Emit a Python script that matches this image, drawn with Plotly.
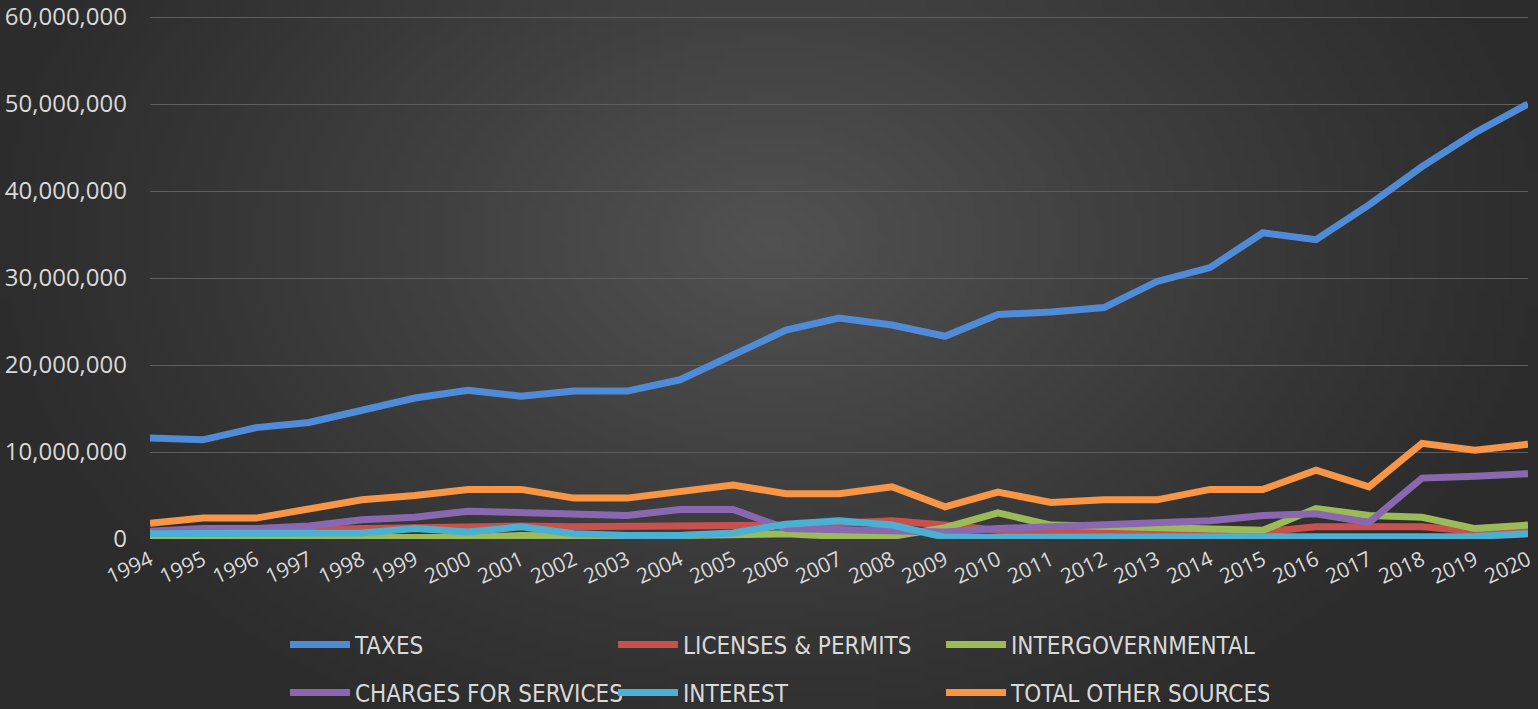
import zlib, struct, base64
import plotly.graph_objects as go

years = list(range(1994, 2021))

taxes = [11.6, 11.4, 12.8, 13.4, 14.8, 16.2, 17.1, 16.4, 17.0, 17.0, 18.3, 21.1, 24.0, 25.4,
         24.6, 23.3, 25.8, 26.1, 26.6, 29.6, 31.2, 35.2, 34.4, 38.4, 42.8, 46.7, 50.0]
licenses = [0.8, 0.9, 1.0, 1.1, 1.3, 1.5, 1.6, 1.5, 1.4, 1.4, 1.4, 1.4, 1.6, 1.8,
            2.1, 1.6, 1.0, 0.8, 0.8, 0.8, 0.8, 0.8, 1.4, 1.4, 1.4, 0.9, 1.2]
intergov = [0.1, 0.1, 0.1, 0.1, 0.1, 0.2, 0.2, 0.4, 0.3, 0.3, 0.4, 0.5, 0.6, 0.3,
            0.3, 1.3, 3.0, 1.6, 1.5, 1.2, 1.2, 1.0, 3.5, 2.7, 2.5, 1.2, 1.6]
charges = [0.9, 1.2, 1.2, 1.5, 2.2, 2.5, 3.2, 3.0, 2.7, 2.7, 3.4, 3.4, 1.2, 1.0,
           1.0, 0.8, 1.2, 1.4, 1.5, 1.8, 2.1, 2.7, 2.9, 1.9, 7.0, 7.2, 7.5]
interest = [0.6, 0.6, 0.6, 0.6, 0.7, 1.2, 0.8, 1.4, 0.6, 0.4, 0.4, 0.7, 1.7, 2.1,
            1.6, 0.2, 0.2, 0.3, 0.3, 0.3, 0.3, 0.3, 0.3, 0.3, 0.3, 0.3, 0.6]
other = [1.8, 2.4, 2.4, 3.5, 4.5, 5.0, 5.7, 5.7, 4.7, 4.7, 5.4, 6.2, 5.2, 5.2,
         6.0, 3.7, 5.4, 4.2, 4.5, 4.5, 5.7, 5.7, 7.9, 6.0, 11.0, 10.2, 10.9]

series_names = ["TAXES", "LICENSES & PERMITS", "INTERGOVERNMENTAL",
                "CHARGES FOR SERVICES", "INTEREST", "TOTAL OTHER SOURCES"]
series_vals = [taxes, licenses, intergov, charges, interest, other]
colors = ["#4F8BD6", "#C8504D", "#9BBB59", "#8A68B0", "#4BB0D2", "#F79646"]
y_ticks = [0, 10e6, 20e6, 30e6, 40e6, 50e6, 60e6]


def make_png(w, h, fn):
    raw = bytearray()
    for j in range(h):
        raw.append(0)
        for i in range(w):
            v = fn(i, j)
            raw += bytes((v, v, v))

    def chunk(t, d):
        c = struct.pack('>I', len(d)) + t + d
        return c + struct.pack('>I', zlib.crc32(t + d) & 0xffffffff)

    png = (b'\x89PNG\r\n\x1a\n'
           + chunk(b'IHDR', struct.pack('>IIBBBBB', w, h, 8, 2, 0, 0, 0))
           + chunk(b'IDAT', zlib.compress(bytes(raw)))
           + chunk(b'IEND', b''))
    return 'data:image/png;base64,' + base64.b64encode(png).decode()


W, H = 1538, 709
GW, GH = 192, 89


def grad(i, j):
    x = (i + 0.5) / GW * W
    y = (j + 0.5) / GH * H
    d = (((x - 770) / 800) ** 2 + ((y - 240) / 560) ** 2) ** 0.5
    d = min(d, 1.0)
    return int(44 + 38 * (1 - d) ** 1.1)


bg = make_png(GW, GH, grad)

L, R, T, B = 150, 10, 12, 170
pw = W - L - R
ph = H - T - B
y0_px, y60_px = H - B, 17
y_top = 60e6 * ph / (y0_px - y60_px)

fig = go.Figure()
for k, (name, vals, col) in enumerate(zip(series_names, series_vals, colors)):
    fig.add_trace(go.Scatter(
        x=years, y=[v * 1e6 for v in vals], name=name, mode="lines",
        line=dict(color=col, width=7),
        legend="legend" if k < 3 else "legend2",
    ))

legend_font = dict(family="DejaVu Sans Condensed, sans-serif",
                   size=24, color="#d9d9d9")
common_leg = dict(orientation="h", xref="container", yref="container",
                  xanchor="left", yanchor="middle", x=285 / W,
                  entrywidth=253, entrywidthmode="pixels",
                  font=legend_font, bgcolor="rgba(0,0,0,0)", itemwidth=60)

fig.update_layout(
    width=W, height=H,
    margin=dict(l=L, r=R, t=T, b=B, autoexpand=False),
    paper_bgcolor="#2c2c2c",
    plot_bgcolor="rgba(0,0,0,0)",
    showlegend=True,
    legend=dict(y=1 - 645 / H, **common_leg),
    legend2=dict(y=1 - 693 / H, **common_leg),
    images=[dict(source=bg, xref="paper", yref="paper",
                 x=-L / pw, y=1 + T / ph, sizex=W / pw, sizey=H / ph,
                 xanchor="left", yanchor="top", sizing="stretch", layer="below")],
    xaxis=dict(range=[1994, 2020], tickvals=years, ticktext=[str(y) for y in years],
               tickangle=-25, showgrid=False, zeroline=False, showline=False,
               automargin=False,
               tickfont=dict(family="Open Sans, sans-serif", size=21, color="#d9d9d9"),
               ticks="", ticklabelstandoff=4),
    yaxis=dict(range=[0, y_top], tickvals=y_ticks, tickformat=",d",
               showgrid=True, gridcolor="#5e5e5e", gridwidth=1, zeroline=False,
               showline=False, ticks="", automargin=False,
               ticklabeloverflow="allow",
               tickfont=dict(family="Open Sans, sans-serif", size=24, color="#d9d9d9"),
               ticklabelstandoff=22),
)

fig.write_html("out.html")
